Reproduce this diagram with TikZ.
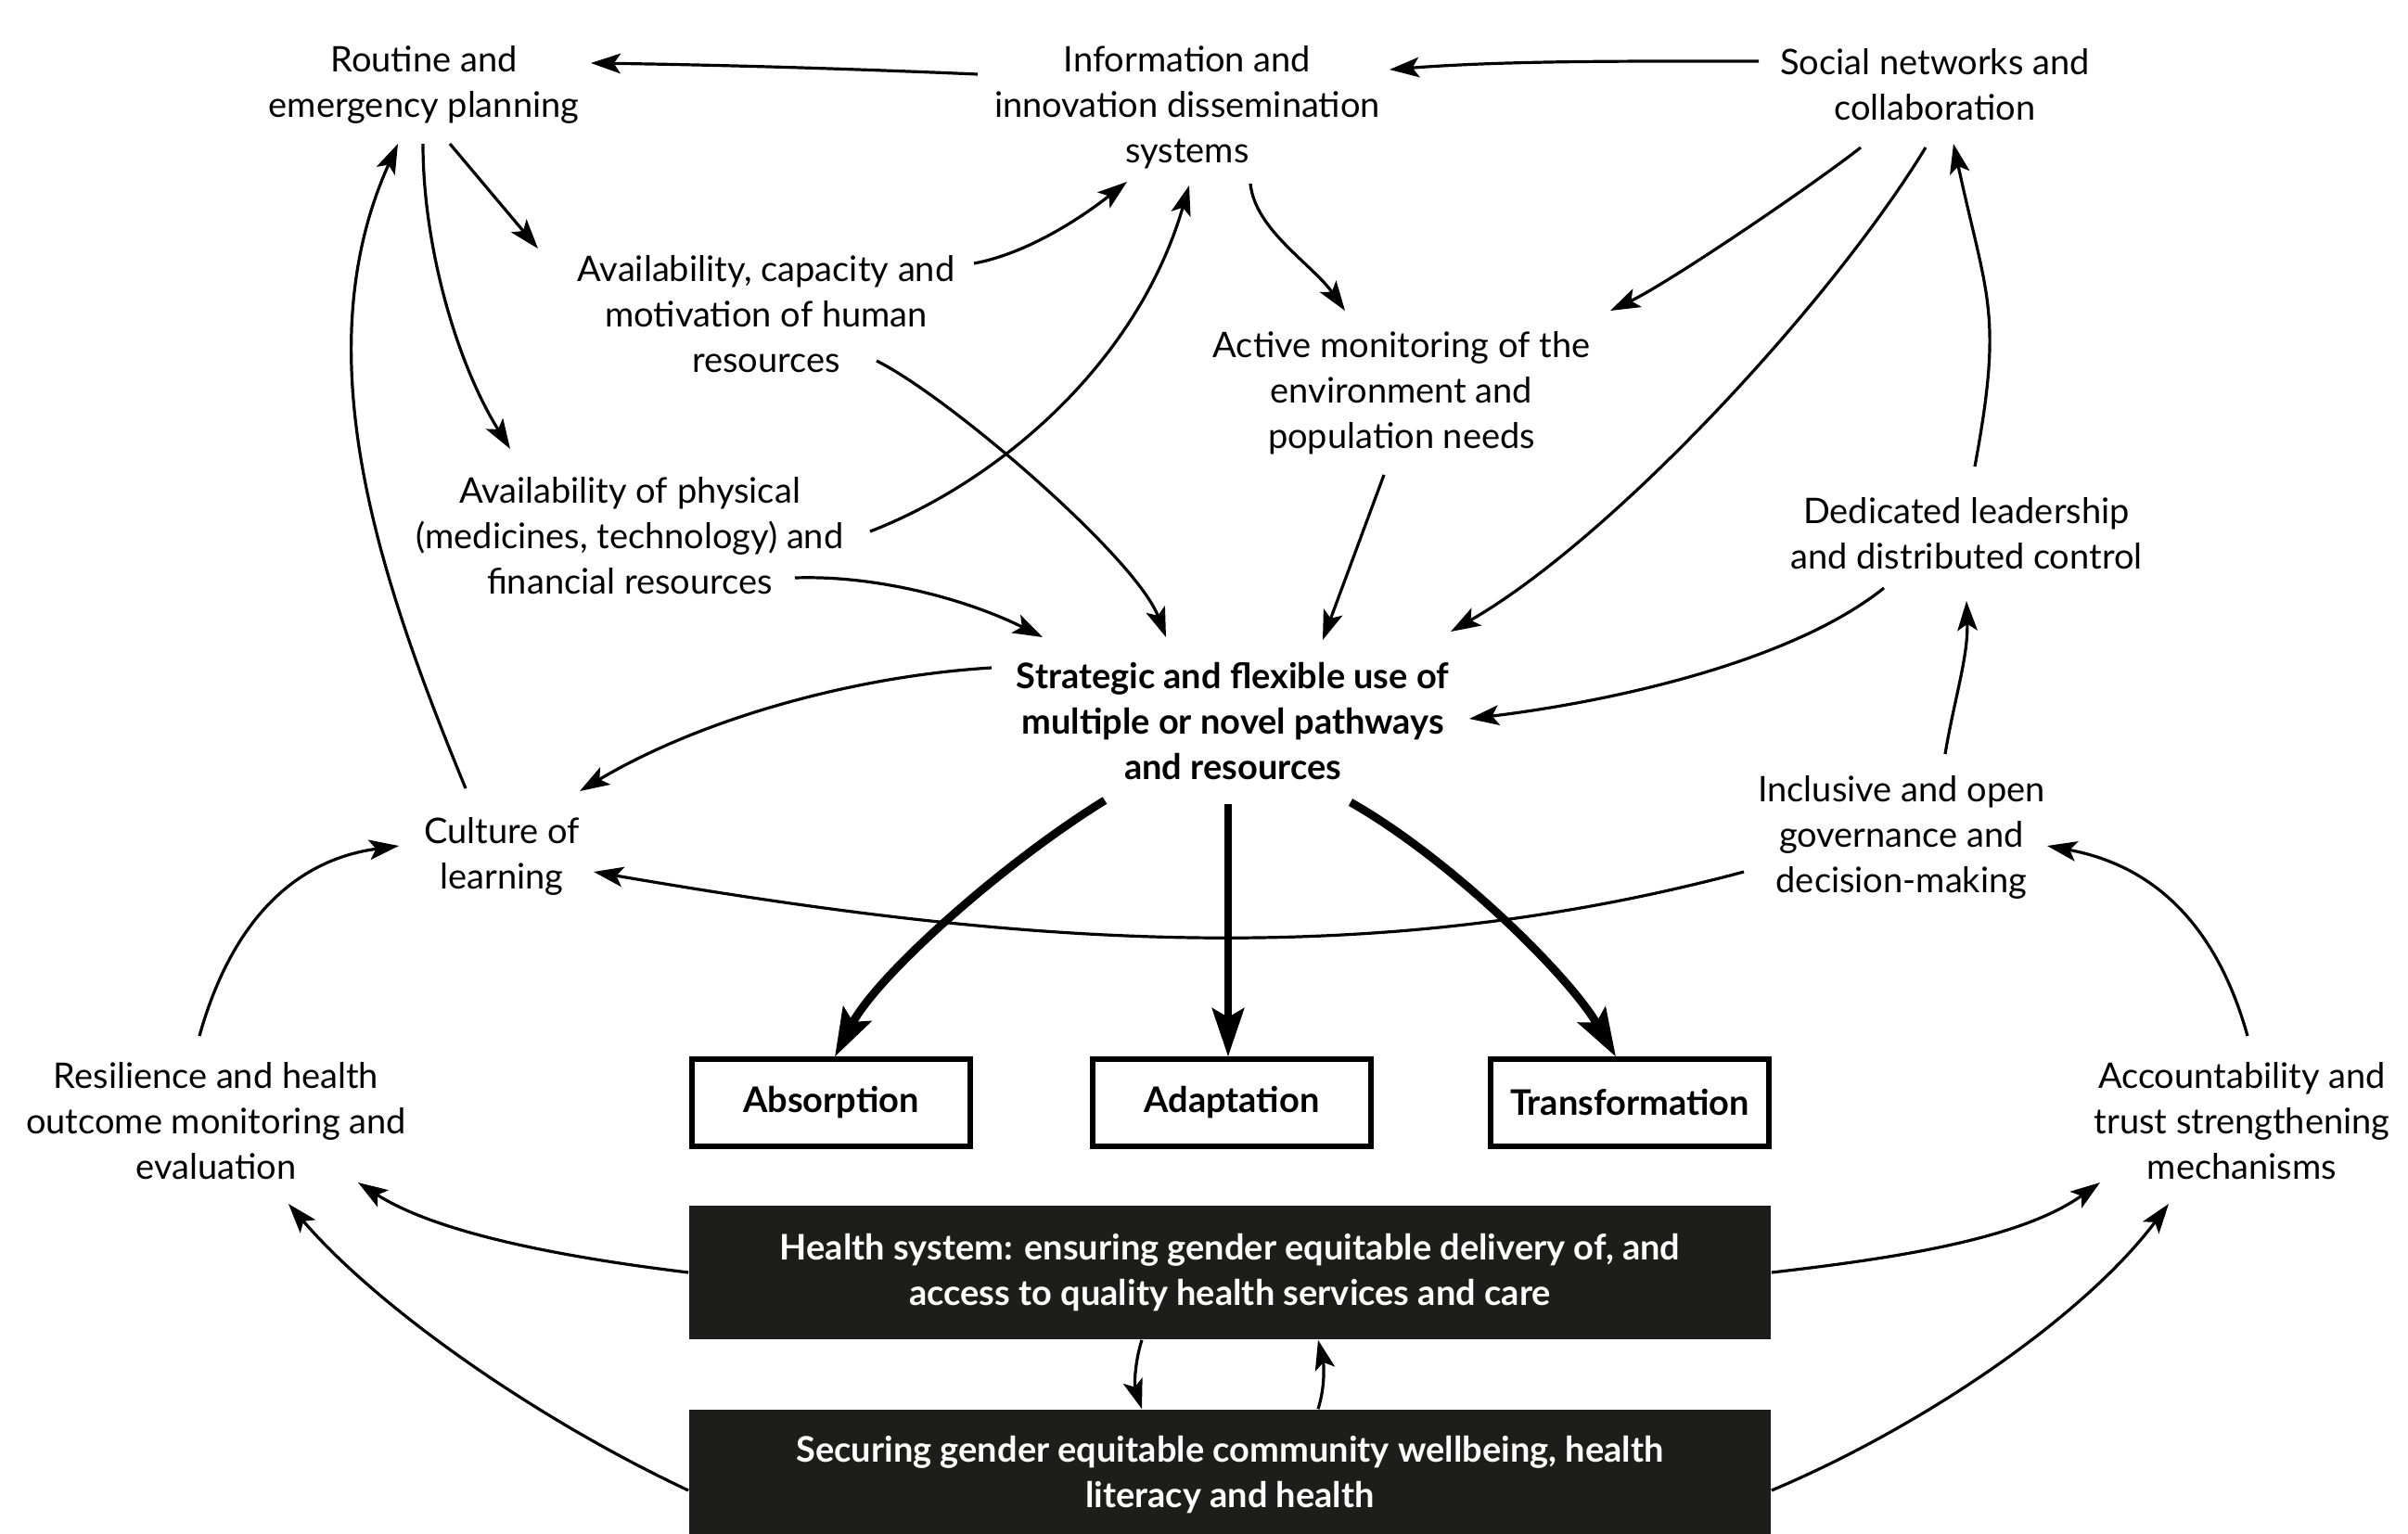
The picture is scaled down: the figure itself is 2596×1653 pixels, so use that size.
\documentclass[tikz,border=0pt]{standalone}
\usepackage{fontspec}
\setmainfont{Lato}
\usetikzlibrary{arrows.meta}
\definecolor{boxblack}{HTML}{1D1D1B}
\begin{document}
\begin{tikzpicture}[x=0.25pt,y=-0.25pt,
  lbl/.style={align=center, inner sep=0pt, font=\fontsize{9.5}{12.25}\selectfont},
  boldlbl/.style={lbl, font=\fontsize{9.5}{12.25}\selectfont\bfseries},
  arr/.style={line width=0.8pt, -{Stealth[length=8pt,width=5.4pt,inset=1.8pt]}},
  big/.style={line width=2.2pt, -{Stealth[length=13pt,width=8.5pt,inset=2.4pt]}},
  outbox/.style={draw, line width=1.3pt, inner sep=0pt, minimum width=75pt, minimum height=23.5pt, font=\fontsize{9.5}{12.25}\selectfont\bfseries},
  blackbox/.style={fill=boxblack, text=white, align=center, inner sep=0pt, minimum width=291.5pt, font=\fontsize{9.5}{12.25}\selectfont\bfseries}]
\useasboundingbox (0,0) rectangle (2596,1653);

% text nodes
\node[lbl] (R)  at (457,91)   {Routine and\\emergency planning};
\node[lbl] (I)  at (1280,116) {Information and\\innovation dissemination\\systems};
\node[lbl] (S)  at (2086,91)  {Social networks and\\collaboration};
\node[lbl] (AC) at (826,339)  {Availability, capacity and\\motivation of human\\resources};
\node[lbl] (AM) at (1511,424) {Active monitoring of the\\environment and\\population needs};
\node[lbl] (AP) at (679,578)  {Availability of physical\\(medicines, technology) and\\financial resources};
\node[lbl] (DL) at (2120,575) {Dedicated leadership\\and distributed control};
\node[boldlbl] (ST) at (1329,778) {Strategic and flexible use of\\multiple or novel pathways\\and resources};
\node[lbl] (CL) at (541,923)  {Culture of\\learning};
\node[lbl] (IG) at (2050,903) {Inclusive and open\\governance and\\decision-making};
\node[lbl] (RE) at (233,1209) {Resilience and health\\outcome monitoring and\\evaluation};
\node[lbl] (AT) at (2417,1209) {Accountability and\\trust strengthening\\mechanisms};

% outcome boxes
\node[outbox] (ab) at (896,1189)  {Absorption};
\node[outbox] (ad) at (1328,1189) {Adaptation};
\node[outbox] (tr) at (1757,1189) {Transformation};

% black boxes
\node[blackbox, minimum height=36pt] (HS) at (1326,1372) {Health system: ensuring gender equitable delivery of, and\\access to quality health services and care};
\node[blackbox, minimum height=35pt] (SG) at (1326,1590) {Securing gender equitable community wellbeing, health\\literacy and health};

% connectors
\draw[arr] ([shift={(-226,-36)}]I.center) .. controls +(-140,-6) and +(140,2) .. ([shift={(180,-23)}]R.center);
\draw[arr] ([shift={(-190,-25)}]S.center) .. controls +(-130,0) and +(130,-10) .. ([shift={(218,-41)}]I.center);
\draw[arr] ([shift={(28,64)}]R.center) -- ([shift={(-246,-71)}]AC.center);
\draw[arr] ([shift={(-1,64)}]R.center) .. controls +(0,110) and +(-58,-93) .. ([shift={(-129,-94)}]AP.center);
\draw[arr] ([shift={(-39,-73)}]CL.center) .. controls +(-94,-228) and +(-102,226) .. ([shift={(-28,64)}]R.center);
\draw[arr] ([shift={(224,-55)}]AC.center) .. controls +(59,-11) and +(-47,37) .. ([shift={(-65,80)}]I.center);
\draw[arr] ([shift={(259,-5)}]AP.center) .. controls +(139,-54) and +(-56,192) .. ([shift={(2,84)}]I.center);
\draw[arr] ([shift={(68,82)}]I.center) .. controls +(5,50) and +(-35,-50) .. ([shift={(-61,-89)}]AM.center);
\draw[arr] ([shift={(-80,68)}]S.center) .. controls +(-55,43) and +(63,-30) .. ([shift={(225,-89)}]AM.center);
\draw[arr] ([shift={(-10,68)}]S.center) .. controls +(-104,170) and +(174,-100) .. ([shift={(235,-97)}]ST.center);
\draw[arr] ([shift={(9,-72)}]DL.center) .. controls +(31,-167) and +(36,167) .. ([shift={(20,64)}]S.center);
\draw[arr] ([shift={(119,50)}]AC.center) .. controls +(80,40) and +(-32,-85) .. ([shift={(-72,-91)}]ST.center);
\draw[arr] ([shift={(-19,88)}]AM.center) -- ([shift={(97,-88)}]ST.center);
\draw[arr] ([shift={(178,45)}]AP.center) .. controls +(90,-3) and +(-80,-40) .. ([shift={(-205,-91)}]ST.center);
\draw[arr] ([shift={(-89,59)}]DL.center) .. controls +(-101,81) and +(149,-18) .. ([shift={(255,-3)}]ST.center);
\draw[arr] ([shift={(-260,-58)}]ST.center) .. controls +(-150,9) and +(129,-77) .. ([shift={(84,-70)}]CL.center);
\draw[arr] ([shift={(47,-90)}]IG.center) .. controls +(10,-60) and +(2,60) .. ([shift={(0,73)}]DL.center);
\draw[arr] ([shift={(-170,37)}]IG.center) .. controls +(-422,113) and +(431,74) .. ([shift={(99,17)}]CL.center);
\draw[arr] ([shift={(-18,-92)}]RE.center) .. controls +(32,-115) and +(-119,16) .. ([shift={(-111,-11)}]CL.center);
\draw[arr] ([shift={(6,-92)}]AT.center) .. controls +(-32,-115) and +(119,22) .. ([shift={(157,9)}]IG.center);

\draw[big] ([shift={(-138,85)}]ST.center) .. controls +(-110,68) and +(46,-88) .. ([shift={(4,0)}]ab.north);
\draw[big] ([shift={(-5,89)}]ST.center) -- ([shift={(-4,0)}]ad.north);
\draw[big] ([shift={(127,87)}]ST.center) .. controls +(109,62) and +(-50,-87) .. ([shift={(-15,0)}]tr.north);

\draw[arr] (HS.west) .. controls +(-140,-17) and +(84,54) .. ([shift={(153,66)}]RE.center);
\draw[arr] (HS.east) .. controls +(140,-16) and +(-84,60) .. ([shift={(-153,66)}]AT.center);
\draw[arr] ([shift={(0,17)}]SG.west) .. controls +(-162,-76) and +(98,114) .. ([shift={(78,89)}]RE.center);
\draw[arr] ([shift={(0,17)}]SG.east) .. controls +(166,-70) and +(-90,120) .. ([shift={(-79,89)}]AT.center);
\draw[arr] ([shift={(-95,0)}]HS.south) .. controls +(-8,25) and +(-8,-25) .. ([shift={(-95,0)}]SG.north);
\draw[arr] ([shift={(95,0)}]SG.north) .. controls +(8,-25) and +(6,25) .. ([shift={(95,0)}]HS.south);
\end{tikzpicture}
\end{document}
